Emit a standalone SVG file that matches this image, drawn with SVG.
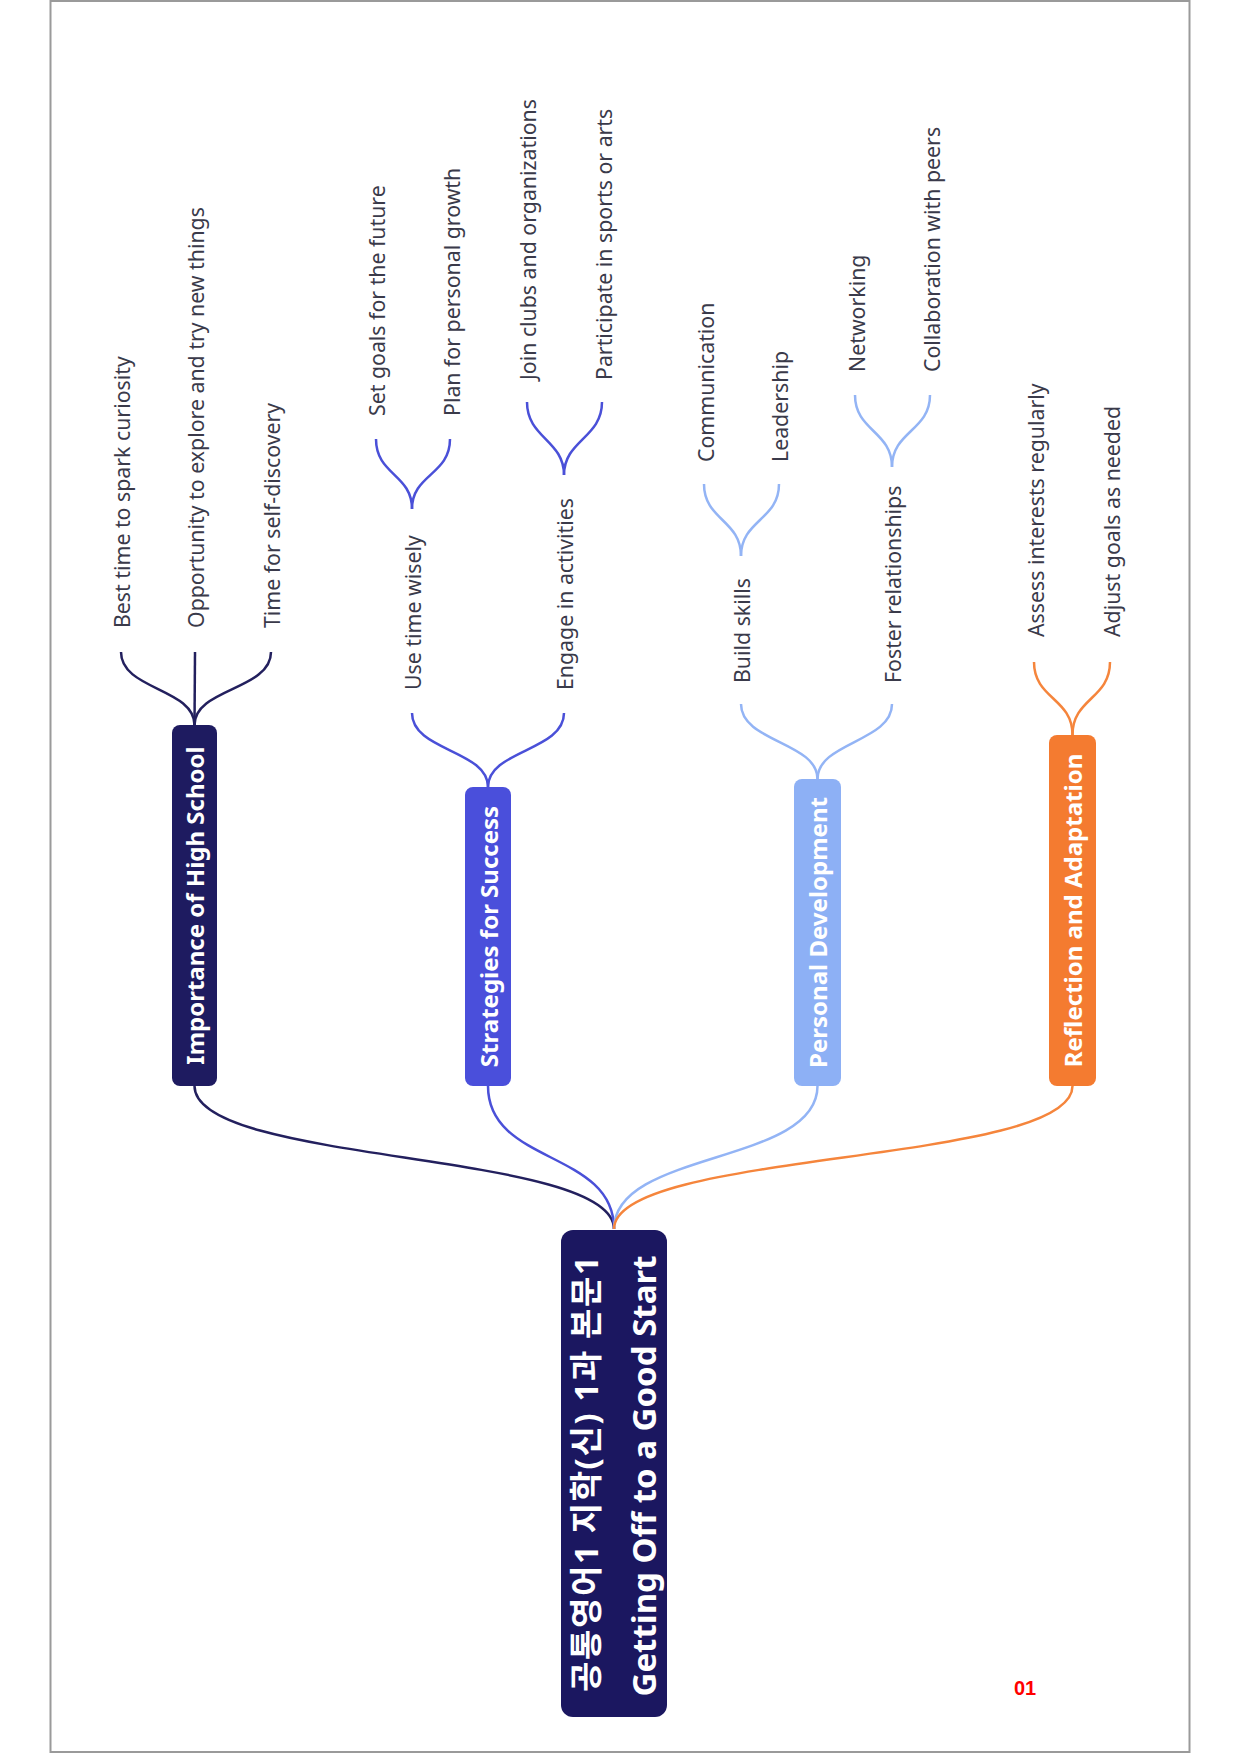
<svg xmlns="http://www.w3.org/2000/svg" width="1240" height="1754" viewBox="0 0 1240 1754">
<style>
.leaf{font-family:"Noto Sans","Liberation Sans",sans-serif;font-size:21.3px;fill:#3a3a4a;dominant-baseline:central;text-anchor:start}
.main{font-family:"Noto Sans","Liberation Sans",sans-serif;font-size:24px;font-weight:bold;fill:#ffffff;dominant-baseline:central;text-anchor:middle}
.root{font-family:"Noto Sans","Noto Sans CJK KR",sans-serif;font-size:33px;font-weight:bold;fill:#ffffff;dominant-baseline:central;text-anchor:middle}
.c1{fill:none;stroke:#23205e;stroke-width:2.5}
.c2{fill:none;stroke:#4a50d8;stroke-width:2.5}
.c3{fill:none;stroke:#93b4f5;stroke-width:2.5}
.c4{fill:none;stroke:#f5853c;stroke-width:2.5}
</style>
<rect x="0" y="0" width="1240" height="1754" fill="#ffffff"/>
<rect x="50.5" y="1" width="1139" height="1751" fill="none" stroke="#9a9a9a" stroke-width="2"/>
<g id="connectors">
<path class="c1" d="M614,1229 C614,1150 194.5,1165 194.5,1086"/>
<path class="c2" d="M614,1229 C614,1150 488,1165 488,1086"/>
<path class="c3" d="M614,1229 C614,1150 817.5,1165 817.5,1086"/>
<path class="c4" d="M614,1229 C614,1150 1072.5,1165 1072.5,1086"/>
<path class="c1" d="M194.5,725 C194.5,688 121,690 121,652"/>
<path class="c1" d="M194.5,725 L195,652"/>
<path class="c1" d="M194.5,725 C194.5,688 271,690 271,652"/>
<path class="c2" d="M488,787 C488,750 412,751 412,713"/>
<path class="c2" d="M488,787 C488,750 564,751 564,713"/>
<path class="c2" d="M412,509 C412,474 376,475 376,439"/>
<path class="c2" d="M412,509 C412,474 450,475 450,439"/>
<path class="c2" d="M564,475 C564,440 527,438 527,402"/>
<path class="c2" d="M564,475 C564,440 602,438 602,402"/>
<path class="c3" d="M817.5,779 C817.5,742 741,742 741,704"/>
<path class="c3" d="M817.5,779 C817.5,742 892,742 892,704"/>
<path class="c3" d="M741,556 C741,520 704,520 704,484"/>
<path class="c3" d="M741,556 C741,520 779,520 779,484"/>
<path class="c3" d="M892,467 C892,431 855,431 855,395"/>
<path class="c3" d="M892,467 C892,431 930,431 930,395"/>
<path class="c4" d="M1072.5,735 C1072.5,698 1034,699 1034,662"/>
<path class="c4" d="M1072.5,735 C1072.5,698 1110,699 1110,662"/>
</g>
<g id="root">
<rect x="561" y="1230" width="106" height="487" rx="12" fill="#1b1760"/>
<text class="root" transform="translate(585,1474) rotate(-90)" textLength="436" lengthAdjust="spacing">공통영어1 지학(신) 1과 본문1</text>
<text class="root" transform="translate(643,1476) rotate(-90)">Getting Off to a Good Start</text>
</g>
<g id="n1">
<rect x="172" y="725" width="45" height="361" rx="8" fill="#1e1b60"/>
<text class="main" transform="translate(194.5,905.5) rotate(-90)">Importance of High School</text>
</g>
<g id="n2">
<rect x="465" y="787" width="46" height="299" rx="8" fill="#4a4fdb"/>
<text class="main" transform="translate(488,936.5) rotate(-90)">Strategies for Success</text>
</g>
<g id="n3">
<rect x="794" y="779" width="47" height="307" rx="8" fill="#8db0f5"/>
<text class="main" transform="translate(817.5,932.5) rotate(-90)">Personal Development</text>
</g>
<g id="n4">
<rect x="1049" y="735" width="47" height="351" rx="8" fill="#f47b30"/>
<text class="main" transform="translate(1072.5,910.5) rotate(-90)">Reflection and Adaptation</text>
</g>
<g id="n1a"><text class="leaf" transform="translate(121,628) rotate(-90)">Best time to spark curiosity</text></g>
<g id="n1b"><text class="leaf" transform="translate(195,628) rotate(-90)">Opportunity to explore and try new things</text></g>
<g id="n1c"><text class="leaf" transform="translate(271,628) rotate(-90)">Time for self-discovery</text></g>
<g id="n2a"><text class="leaf" transform="translate(412,690) rotate(-90)">Use time wisely</text></g>
<g id="n2a1"><text class="leaf" transform="translate(376,416) rotate(-90)">Set goals for the future</text></g>
<g id="n2a2"><text class="leaf" transform="translate(451,416) rotate(-90)">Plan for personal growth</text></g>
<g id="n2b"><text class="leaf" transform="translate(564,690) rotate(-90)">Engage in activities</text></g>
<g id="n2b1"><text class="leaf" transform="translate(527,380) rotate(-90)">Join clubs and organizations</text></g>
<g id="n2b2"><text class="leaf" transform="translate(603,380) rotate(-90)">Participate in sports or arts</text></g>
<g id="n3a"><text class="leaf" transform="translate(741,683) rotate(-90)">Build skills</text></g>
<g id="n3a1"><text class="leaf" transform="translate(705,462) rotate(-90)">Communication</text></g>
<g id="n3a2"><text class="leaf" transform="translate(779,462) rotate(-90)">Leadership</text></g>
<g id="n3b"><text class="leaf" transform="translate(892,683) rotate(-90)">Foster relationships</text></g>
<g id="n3b1"><text class="leaf" transform="translate(856,372) rotate(-90)">Networking</text></g>
<g id="n3b2"><text class="leaf" transform="translate(931,372) rotate(-90)">Collaboration with peers</text></g>
<g id="n4a"><text class="leaf" transform="translate(1035,637) rotate(-90)">Assess interests regularly</text></g>
<g id="n4b"><text class="leaf" transform="translate(1111,637) rotate(-90)">Adjust goals as needed</text></g>
<text x="1025" y="1695" font-family="Liberation Sans, Arial, sans-serif" font-size="20" font-weight="bold" fill="#ff0000" text-anchor="middle">01</text>
</svg>
